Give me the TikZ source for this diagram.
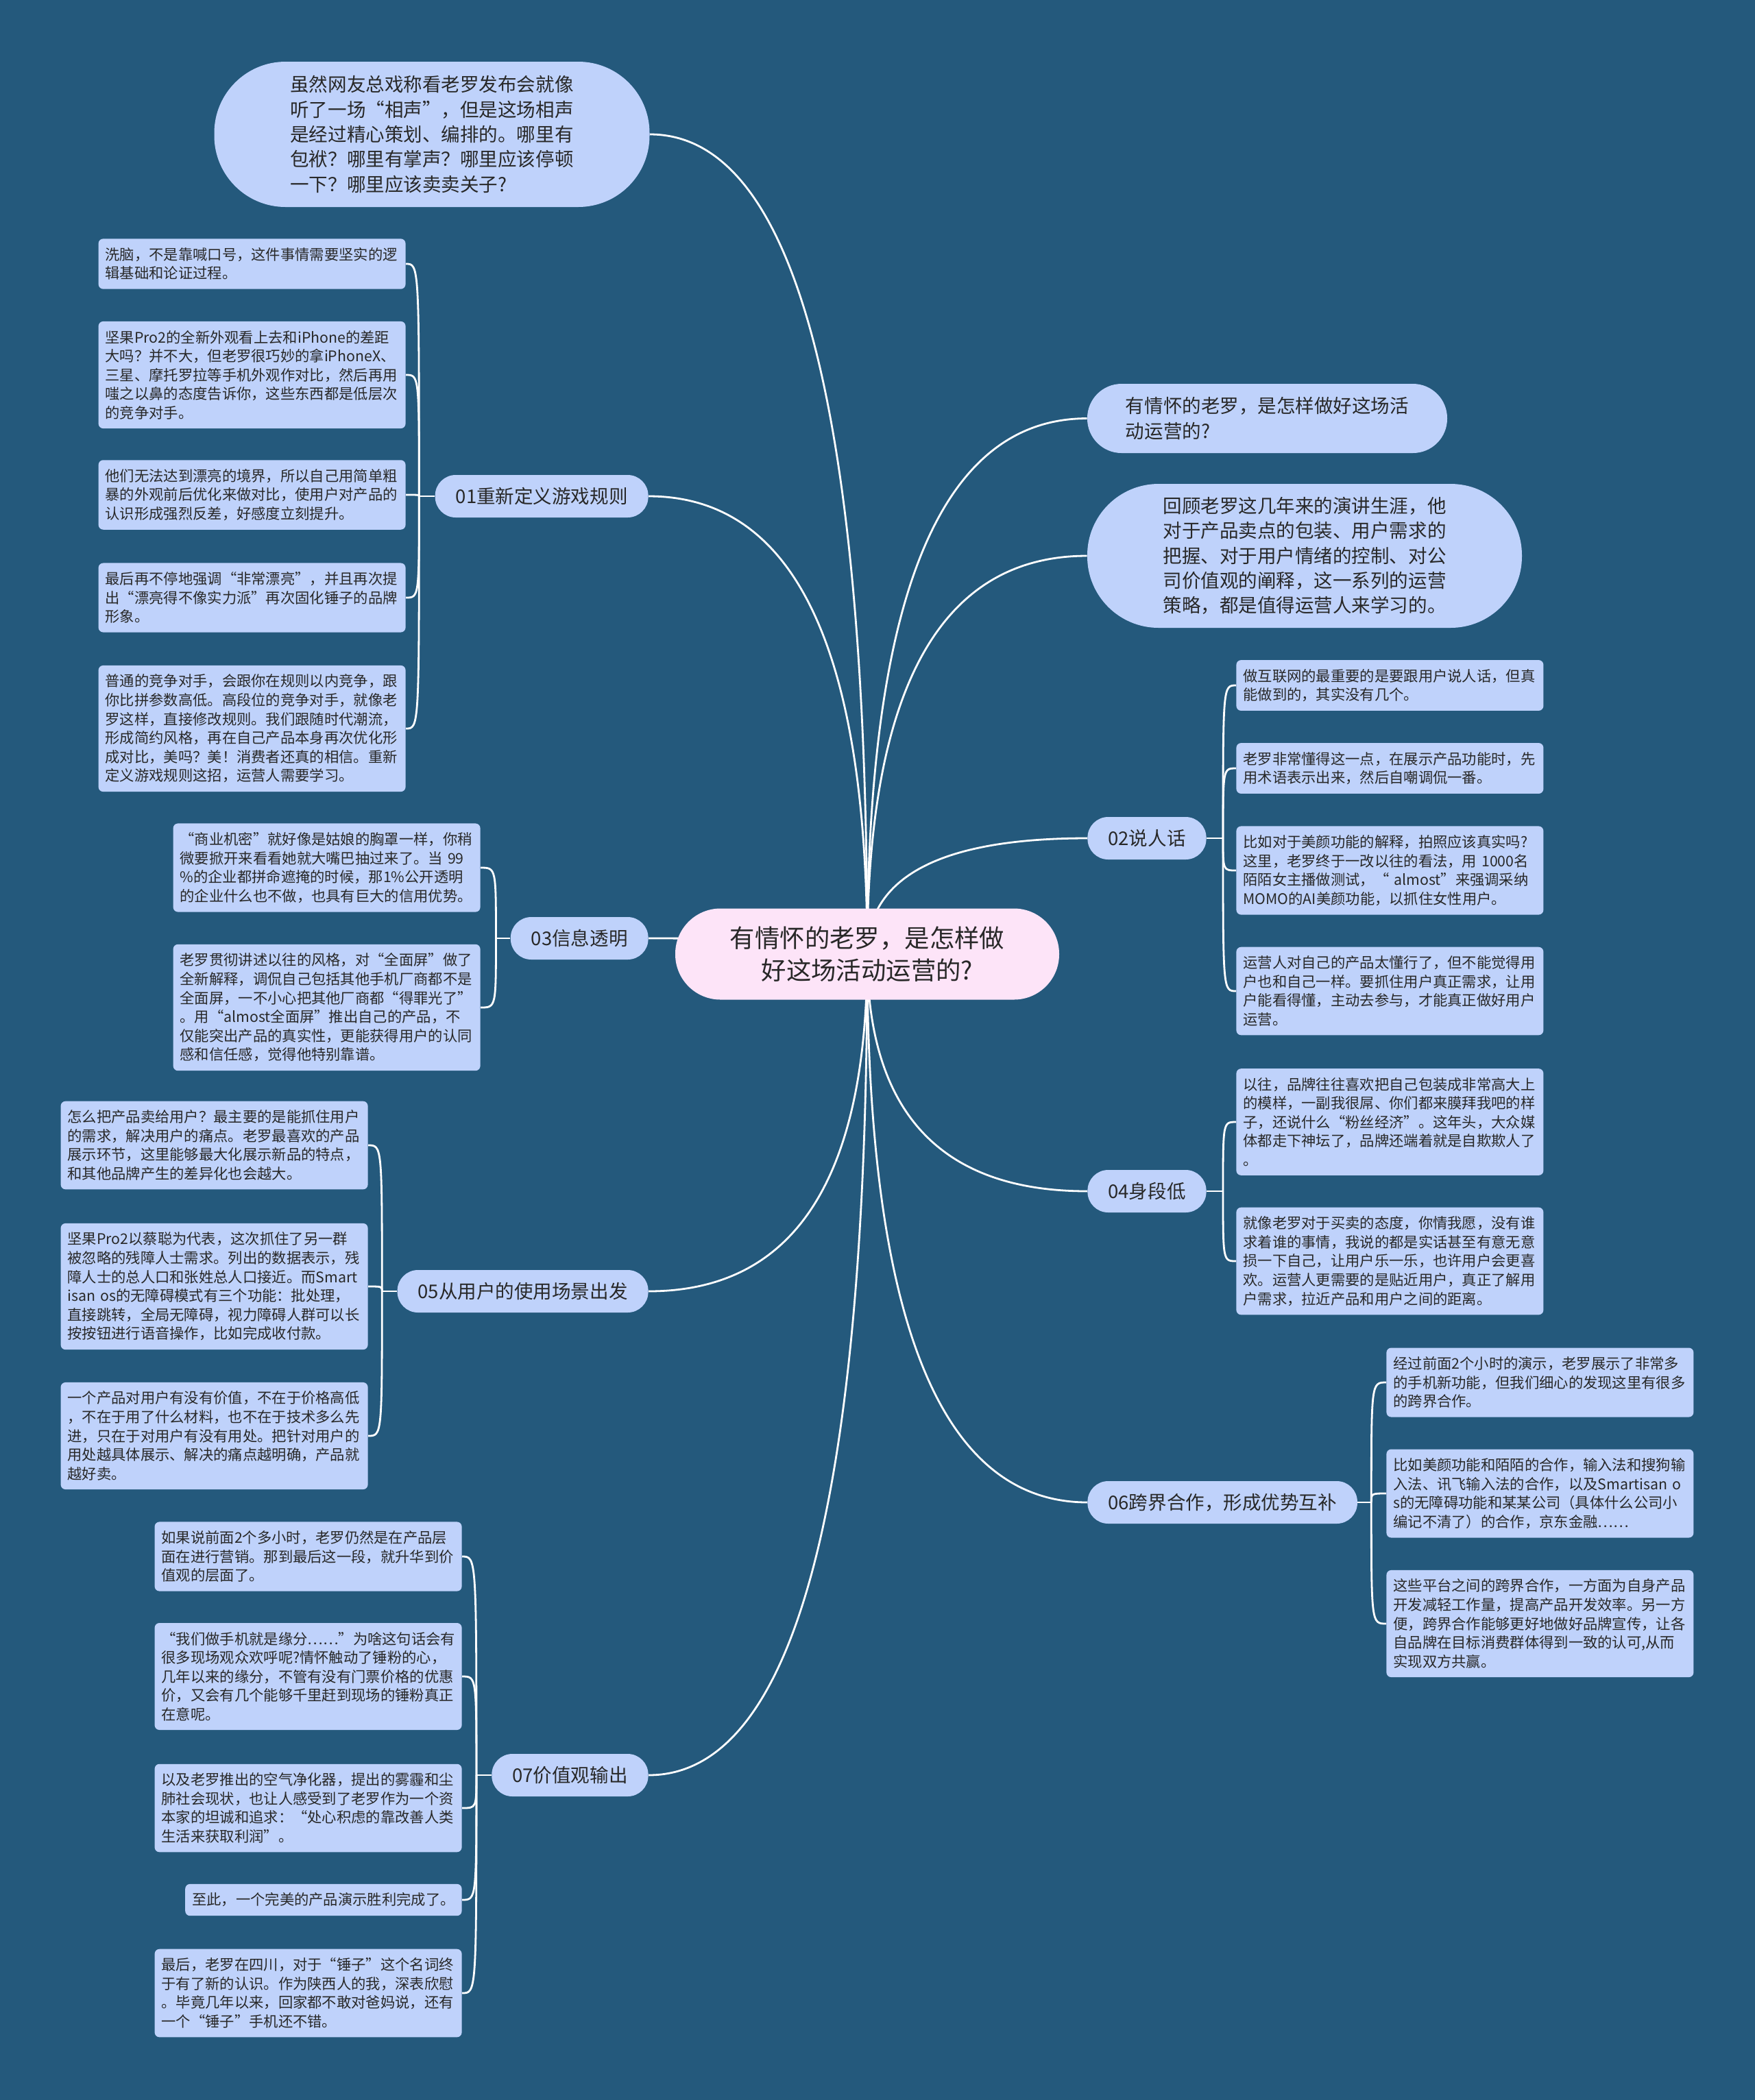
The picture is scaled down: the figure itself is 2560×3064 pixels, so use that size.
\documentclass[tikz,border=0pt]{standalone}
\usepackage{fontspec}
\setmainfont{Noto Sans CJK SC}
\usetikzlibrary{calc}
\definecolor{bgc}{RGB}{36,89,124}
\definecolor{leafc}{RGB}{191,210,251}
\definecolor{rootc}{RGB}{253,228,248}
\definecolor{txt}{RGB}{40,40,40}
\pgfdeclarelayer{back}
\pgfdeclarelayer{lines}
\pgfsetlayers{back,lines,main}
\begin{document}
\begin{tikzpicture}[x=0.5pt,y=-0.5pt,
  leaf/.style={fill=leafc, text=txt, rounded corners=3.5pt, align=left, text width=214pt,
    inner xsep=5pt, inner ysep=6.5pt, font=\fontsize{10.65}{13.8}\selectfont},
  leafone/.style={fill=leafc, text=txt, rounded corners=3.5pt, align=left,
    inner xsep=5pt, inner ysep=6.5pt, font=\fontsize{10.65}{13.8}\selectfont},
  branch/.style={fill=leafc, text=txt, rounded corners=15pt, minimum height=31pt,
    inner xsep=15pt, font=\fontsize{13.77}{16}\selectfont},
  bubble/.style={fill=leafc, text=txt, align=left, font=\fontsize{13.77}{18.2}\selectfont},
  rootnode/.style={fill=rootc, text=txt, align=center, minimum width=280pt, minimum height=66.5pt,
    rounded corners=33pt, font=\fontsize{18.2}{23.3}\selectfont},
  conn/.style={draw=white, line width=1.4pt}]
\useasboundingbox (0,0) rectangle (2560,3064);
\begin{pgfonlayer}{back}
\fill[bgc] (0,0) rectangle (2560,3064);
\end{pgfonlayer}

% root
\node[rootnode] (root) at (1265,1392) {有情怀的老罗，是怎样做\\好这场活动运营的?};

% bubbles
\node[bubble, minimum width=317.5pt, minimum height=106pt, rounded corners=52pt] (A) at (630,196)
 {虽然网友总戏称看老罗发布会就像\\听了一场“相声”，但是这场相声\\是经过精心策划、编排的。哪里有\\包袱？哪里有掌声？哪里应该停顿\\一下？哪里应该卖卖关子?};
\node[bubble, minimum width=262.5pt, minimum height=50.5pt, rounded corners=25pt] (B) at (1848.5,610.5)
 {有情怀的老罗，是怎样做好这场活\\动运营的?};
\node[bubble, minimum width=317pt, minimum height=105pt, rounded corners=52pt] (C) at (1903,811)
 {回顾老罗这几年来的演讲生涯，他\\对于产品卖点的包装、用户需求的\\把握、对于用户情绪的控制、对公\\司价值观的阐释，这一系列的运营\\策略，都是值得运营人来学习的。};

% branches
\node[branch, anchor=east] (b1) at (946,724) {01重新定义游戏规则};
\node[branch, anchor=east] (b3) at (946,1369) {03信息透明};
\node[branch, anchor=east] (b5) at (946,1884) {05从用户的使用场景出发};
\node[branch, anchor=east] (b7) at (946,2590) {07价值观输出};
\node[branch, anchor=west] (b2) at (1586,1223) {02说人话};
\node[branch, anchor=west] (b4) at (1586,1738) {04身段低};
\node[branch, anchor=west] (b6) at (1586,2192) {06跨界合作，形成优势互补};

% 01 leaves
\node[leaf, anchor=east] (l1a) at (592,385) {洗脑，不是靠喊口号，这件事情需要坚实的逻\\辑基础和论证过程。};
\node[leaf, anchor=east] (l1b) at (592,547) {坚果Pro2的全新外观看上去和iPhone的差距\\大吗？并不大，但老罗很巧妙的拿iPhoneX、\\三星、摩托罗拉等手机外观作对比，然后再用\\嗤之以鼻的态度告诉你，这些东西都是低层次\\的竞争对手。};
\node[leaf, anchor=east] (l1c) at (592,722) {他们无法达到漂亮的境界，所以自己用简单粗\\暴的外观前后优化来做对比，使用户对产品的\\认识形成强烈反差，好感度立刻提升。};
\node[leaf, anchor=east] (l1d) at (592,872) {最后再不停地强调“非常漂亮”，并且再次提\\出“漂亮得不像实力派”再次固化锤子的品牌\\形象。};
\node[leaf, anchor=east] (l1e) at (592,1063) {普通的竞争对手，会跟你在规则以内竞争，跟\\你比拼参数高低。高段位的竞争对手，就像老\\罗这样，直接修改规则。我们跟随时代潮流，\\形成简约风格，再在自己产品本身再次优化形\\成对比，美吗？美！消费者还真的相信。重新\\定义游戏规则这招，运营人需要学习。};

% 03 leaves
\node[leaf, anchor=east] (l3a) at (701,1266) {“商业机密”就好像是姑娘的胸罩一样，你稍\\微要掀开来看看她就大嘴巴抽过来了。当~99\\\%的企业都拼命遮掩的时候，那1\%公开透明\\的企业什么也不做，也具有巨大的信用优势。};
\node[leaf, anchor=east] (l3b) at (701,1470) {老罗贯彻讲述以往的风格，对“全面屏”做了\\全新解释，调侃自己包括其他手机厂商都不是\\全面屏，一不小心把其他厂商都“得罪光了”\\。用“almost全面屏”推出自己的产品，不\\仅能突出产品的真实性，更能获得用户的认同\\感和信任感，觉得他特别靠谱。};

% 05 leaves
\node[leaf, anchor=east] (l5a) at (537,1671) {怎么把产品卖给用户？最主要的是能抓住用户\\的需求，解决用户的痛点。老罗最喜欢的产品\\展示环节，这里能够最大化展示新品的特点，\\和其他品牌产生的差异化也会越大。};
\node[leaf, anchor=east] (l5b) at (537,1877) {坚果Pro2以蔡聪为代表，这次抓住了另一群\\被忽略的残障人士需求。列出的数据表示，残\\障人士的总人口和张姓总人口接近。而Smart\\isan~os的无障碍模式有三个功能：批处理，\\直接跳转，全局无障碍，视力障碍人群可以长\\按按钮进行语音操作，比如完成收付款。};
\node[leaf, anchor=east] (l5c) at (537,2095) {一个产品对用户有没有价值，不在于价格高低\\，不在于用了什么材料，也不在于技术多么先\\进，只在于对用户有没有用处。把针对用户的\\用处越具体展示、解决的痛点越明确，产品就\\越好卖。};

% 07 leaves
\node[leaf, anchor=east] (l7a) at (674,2271) {如果说前面2个多小时，老罗仍然是在产品层\\面在进行营销。那到最后这一段，就升华到价\\值观的层面了。};
\node[leaf, anchor=east] (l7b) at (674,2446) {“我们做手机就是缘分……”为啥这句话会有\\很多现场观众欢呼呢?情怀触动了锤粉的心，\\几年以来的缘分，不管有没有门票价格的优惠\\价，又会有几个能够千里赶到现场的锤粉真正\\在意呢。};
\node[leaf, anchor=east] (l7c) at (674,2638) {以及老罗推出的空气净化器，提出的雾霾和尘\\肺社会现状，也让人感受到了老罗作为一个资\\本家的坦诚和追求：“处心积虑的靠改善人类\\生活来获取利润”。};
\node[leafone, anchor=east] (l7d) at (674,2772) {至此，一个完美的产品演示胜利完成了。};
\node[leaf, anchor=east] (l7e) at (674,2908) {最后，老罗在四川，对于“锤子”这个名词终\\于有了新的认识。作为陕西人的我，深表欣慰\\。毕竟几年以来，回家都不敢对爸妈说，还有\\一个“锤子”手机还不错。};

% 02 leaves
\node[leaf, anchor=west] (r2a) at (1803,1000) {做互联网的最重要的是要跟用户说人话，但真\\能做到的，其实没有几个。};
\node[leaf, anchor=west] (r2b) at (1803,1121) {老罗非常懂得这一点，在展示产品功能时，先\\用术语表示出来，然后自嘲调侃一番。};
\node[leaf, anchor=west] (r2c) at (1803,1270) {比如对于美颜功能的解释，拍照应该真实吗?\\这里，老罗终于一改以往的看法，用~1000名\\陌陌女主播做测试，“~almost”来强调采纳\\MOMO的AI美颜功能，以抓住女性用户。};
\node[leaf, anchor=west] (r2d) at (1803,1446) {运营人对自己的产品太懂行了，但不能觉得用\\户也和自己一样。要抓住用户真正需求，让用\\户能看得懂，主动去参与，才能真正做好用户\\运营。};

% 04 leaves
\node[leaf, anchor=west] (r4a) at (1803,1637) {以往，品牌往往喜欢把自己包装成非常高大上\\的模样，一副我很屌、你们都来膜拜我吧的样\\子，还说什么“粉丝经济”。这年头，大众媒\\体都走下神坛了，品牌还端着就是自欺欺人了\\。};
\node[leaf, anchor=west] (r4b) at (1803,1840) {就像老罗对于买卖的态度，你情我愿，没有谁\\求着谁的事情，我说的都是实话甚至有意无意\\损一下自己，让用户乐一乐，也许用户会更喜\\欢。运营人更需要的是贴近用户，真正了解用\\户需求，拉近产品和用户之间的距离。};

% 06 leaves
\node[leaf, anchor=west] (r6a) at (2022,2017) {经过前面2个小时的演示，老罗展示了非常多\\的手机新功能，但我们细心的发现这里有很多\\的跨界合作。};
\node[leaf, anchor=west] (r6b) at (2022,2179) {比如美颜功能和陌陌的合作，输入法和搜狗输\\入法、讯飞输入法的合作，以及Smartisan~o\\s的无障碍功能和某某公司（具体什么公司小\\编记不清了）的合作，京东金融……};
\node[leaf, anchor=west] (r6c) at (2022,2369) {这些平台之间的跨界合作，一方面为自身产品\\开发减轻工作量，提高产品开发效率。另一方\\便，跨界合作能够更好地做好品牌宣传，让各\\自品牌在目标消费群体得到一致的认可,从而\\实现双方共赢。};

% connectors
\begin{pgfonlayer}{lines}
\foreach \n in {A,b1,b3,b5,b7} {
  \coordinate (k\n) at (root.center |- \n.east);
  \draw[conn] (root.center) .. controls ($(root.center)!0.667!(k\n)$) and ($(\n.east)!0.667!(k\n)$) .. (\n.east);
}
\foreach \n in {B,C,b2,b4,b6} {
  \coordinate (k\n) at (root.center |- \n.west);
  \draw[conn] (root.center) .. controls ($(root.center)!0.667!(k\n)$) and ($(\n.west)!0.667!(k\n)$) .. (\n.west);
}

\draw[conn] (b1.west) -- ++(-23,0) coordinate (s1);
\foreach \n in {l1a,l1b,l1c,l1d,l1e}
  \draw[conn] (s1) .. controls (s1 |- \n.east) .. (\n.east);
\draw[conn] (b3.west) -- ++(-21,0) coordinate (s3);
\foreach \n in {l3a,l3b}
  \draw[conn] (s3) .. controls (s3 |- \n.east) .. (\n.east);
\draw[conn] (b5.west) -- ++(-22,0) coordinate (s5);
\foreach \n in {l5a,l5b,l5c}
  \draw[conn] (s5) .. controls (s5 |- \n.east) .. (\n.east);
\draw[conn] (b7.west) -- ++(-22,0) coordinate (s7);
\foreach \n in {l7a,l7b,l7c,l7d,l7e}
  \draw[conn] (s7) .. controls (s7 |- \n.east) .. (\n.east);
\draw[conn] (b2.east) -- ++(24,0) coordinate (s2);
\foreach \n in {r2a,r2b,r2c,r2d}
  \draw[conn] (s2) .. controls (s2 |- \n.west) .. (\n.west);
\draw[conn] (b4.east) -- ++(24,0) coordinate (s4);
\foreach \n in {r4a,r4b}
  \draw[conn] (s4) .. controls (s4 |- \n.west) .. (\n.west);
\draw[conn] (b6.east) -- ++(20,0) coordinate (s6);
\foreach \n in {r6a,r6b,r6c}
  \draw[conn] (s6) .. controls (s6 |- \n.west) .. (\n.west);
\end{pgfonlayer}
\end{tikzpicture}
\end{document}
